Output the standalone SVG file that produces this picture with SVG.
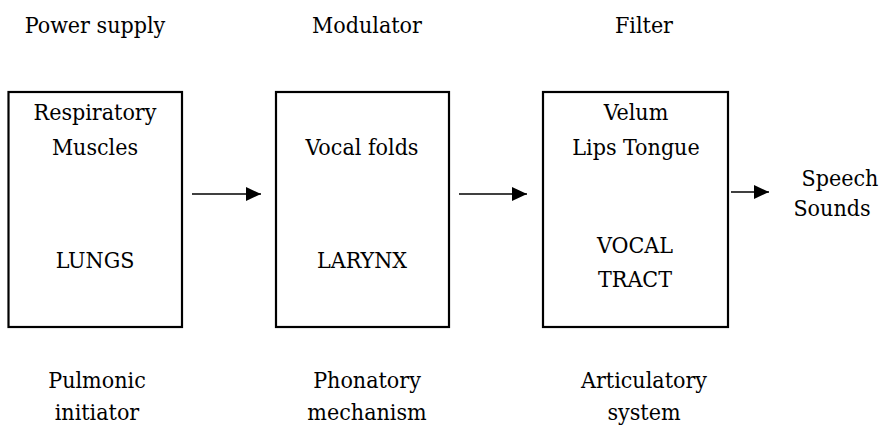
<svg xmlns="http://www.w3.org/2000/svg" width="882" height="427" viewBox="0 0 882 427">
<style>
text{font-family:'DejaVu Serif Condensed','DejaVu Serif',serif;font-size:23px;fill:#000;text-anchor:middle}
.box{fill:#fff;stroke:#000;stroke-width:2.2}
.conn{stroke:#000;stroke-width:1.6;fill:none}
</style>
<defs>
<marker id="ah" markerUnits="userSpaceOnUse" markerWidth="16" markerHeight="14" refX="15" refY="7" orient="auto">
<path d="M0,0 L15,7 L0,14 Z" fill="#000"/>
</marker>
</defs>
<rect width="882" height="427" fill="#fff"/>
<g id="top-labels">
<text x="95" y="33">Power supply</text>
<text x="367" y="33">Modulator</text>
<text x="644" y="33">Filter</text>
</g>
<g id="lungs">
<rect class="box" x="8.5" y="92" width="173.5" height="235"/>
<text x="95" y="120">Respiratory</text>
<text x="95" y="155">Muscles</text>
<text x="95" y="268">LUNGS</text>
</g>
<g id="larynx">
<rect class="box" x="276" y="92" width="173" height="235"/>
<text x="362" y="155">Vocal folds</text>
<text x="362" y="268">LARYNX</text>
</g>
<g id="vocal-tract">
<rect class="box" x="543" y="92" width="185" height="235"/>
<text x="636" y="120">Velum</text>
<text x="636" y="155">Lips Tongue</text>
<text x="635" y="253">VOCAL</text>
<text x="635" y="287">TRACT</text>
</g>
<g id="speech-sounds">
<text x="840" y="186">Speech</text>
<text x="832" y="216">Sounds</text>
</g>
<g id="bottom-labels">
<text x="97" y="388">Pulmonic</text>
<text x="97" y="420">initiator</text>
<text x="367" y="388">Phonatory</text>
<text x="367" y="420">mechanism</text>
<text x="644" y="388">Articulatory</text>
<text x="644" y="420">system</text>
</g>
<g id="connectors">
<line class="conn" x1="192" y1="194" x2="261" y2="194" marker-end="url(#ah)"/>
<line class="conn" x1="459" y1="194" x2="527" y2="194" marker-end="url(#ah)"/>
<line class="conn" x1="731" y1="192" x2="769" y2="192" marker-end="url(#ah)"/>
</g>
</svg>
